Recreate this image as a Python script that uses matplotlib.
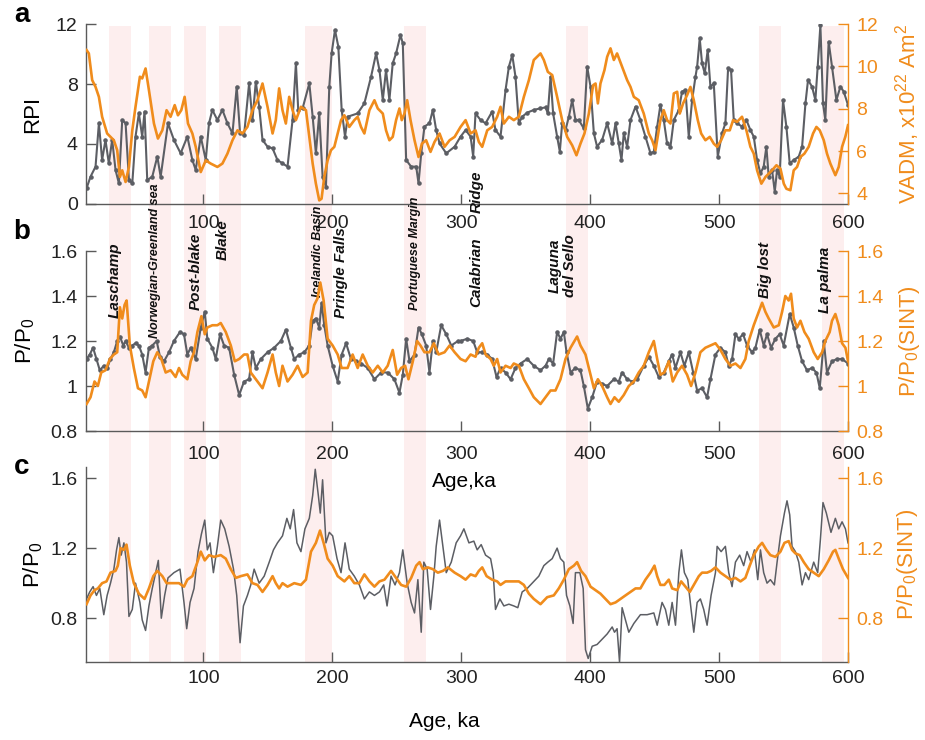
import matplotlib
matplotlib.use('Agg')
import matplotlib.pyplot as plt
from matplotlib.patches import Rectangle
from matplotlib.transforms import blended_transform_factory
from matplotlib.ticker import FuncFormatter

plt.rcParams['font.family'] = ['Liberation Sans', 'DejaVu Sans']
plt.rcParams['mathtext.fontset'] = 'custom'
plt.rcParams['mathtext.rm'] = 'Liberation Sans'
plt.rcParams['mathtext.it'] = 'Liberation Sans:italic'

GRAY = '#5c5e64'
ORANGE = '#f08c1c'
AXIS = '#5a5a5a'
BAND = '#fdeeee'

# ---- panel a: RPI stack (gray) and VADM (orange) ----
rpi_age = [9.4, 12.5, 16.4, 19.0, 21.5, 24.1, 26.7, 29.3, 31.9, 34.5,
           37.1, 39.7, 42.3, 44.9, 47.4, 50.0, 52.6, 54.4, 56.5, 60.4,
           64.3, 66.9, 72.6, 77.2, 82.4, 87.6, 91.5, 94.1, 98.0, 101.9,
           104.4, 107.0, 110.9, 114.8, 118.7, 122.6, 125.9, 128.5, 131.6, 135.5,
           138.1, 140.7, 143.3, 145.9, 149.8, 153.7, 157.5, 161.4, 165.3, 169.2,
           171.8, 173.6, 177.0, 182.2, 184.8, 187.3, 189.9, 192.5, 195.1, 197.7,
           199.5, 202.1, 204.7, 207.3, 209.9, 212.0, 219.7, 224.9, 230.1, 234.0,
           236.6, 239.2, 241.7, 244.3, 246.9, 249.5, 252.9, 254.7, 257.3, 261.2,
           265.1, 266.9, 269.0, 271.5, 275.4, 278.0, 280.6, 283.2, 288.4, 294.9,
           299.5, 303.4, 307.3, 309.3, 311.1, 315.0, 318.9, 324.0, 326.6, 330.5,
           334.4, 337.0, 339.6, 342.1, 344.7, 347.3, 351.2, 356.3, 361.5, 365.4,
           367.2, 369.3, 371.3, 374.4, 376.5, 378.3, 380.9, 383.5, 386.1, 388.6,
           391.2, 395.1, 397.7, 400.3, 402.9, 405.4, 409.3, 413.2, 417.1, 419.7,
           422.2, 424.3, 426.1, 428.7, 431.3, 435.2, 439.0, 442.9, 446.8, 449.4,
           452.0, 454.5, 457.1, 459.7, 462.3, 464.9, 468.8, 471.3, 473.9, 476.5,
           479.1, 481.7, 483.0, 485.0, 486.8, 488.9, 491.2, 493.3, 495.9, 499.0,
           502.3, 504.9, 507.0, 509.3, 511.4, 514.0, 517.8, 521.2, 524.3, 526.9,
           529.5, 532.1, 534.6, 536.7, 538.5, 541.1, 543.2, 545.0, 547.0, 549.6,
           552.2, 554.8, 557.9, 561.8, 564.4, 567.0, 569.0, 572.1, 574.7, 576.5,
           578.6, 580.6, 582.4, 585.0, 587.6, 591.0, 594.1, 596.7, 600.0]
rpi = [1.04, 1.82, 2.49, 5.38, 2.93, 4.27, 2.71, 4.27, 2.27, 1.38,
       5.60, 5.38, 1.60, 1.38, 4.49, 6.04, 4.49, 6.16, 1.60, 1.82,
       3.16, 1.82, 5.38, 4.27, 3.38, 4.49, 2.93, 2.27, 4.49, 2.93,
       5.38, 6.27, 5.60, 6.27, 5.38, 4.71, 7.82, 4.71, 4.60, 8.04,
       5.60, 8.16, 6.49, 4.27, 3.82, 3.71, 2.93, 2.71, 2.49, 5.60,
       9.38, 6.27, 6.38, 8.04, 5.82, 3.38, 6.04, 1.82, 1.16, 7.82,
       10.04, 11.60, 10.49, 6.27, 4.49, 5.82, 6.04, 6.71, 8.49, 10.04,
       8.93, 6.93, 8.93, 6.93, 9.38, 10.04, 11.27, 10.71, 2.93, 2.49,
       2.49, 1.38, 3.38, 5.16, 5.38, 6.27, 4.93, 4.04, 3.38, 3.82,
       4.49, 4.93, 4.49, 3.16, 6.04, 5.60, 5.38, 6.16, 4.93, 4.49,
       7.60, 9.16, 9.93, 8.49, 5.38, 5.82, 6.09, 6.27, 6.38, 6.44,
       6.04, 8.49, 6.04, 4.49, 3.49, 5.38, 4.93, 5.82, 6.93, 5.60,
       5.60, 5.04, 9.16, 7.82, 4.71, 3.82, 4.27, 5.38, 4.04, 5.38,
       4.04, 2.93, 4.71, 3.82, 5.60, 6.49, 5.60, 4.49, 3.38, 3.49,
       5.16, 6.60, 5.60, 4.04, 3.82, 5.60, 6.27, 7.49, 7.60, 4.49,
       6.93, 8.49, 9.16, 11.04, 9.38, 8.71, 10.27, 7.82, 8.04, 3.16,
       4.71, 5.38, 9.04, 8.93, 5.60, 5.38, 5.16, 5.60, 4.93, 4.49,
       2.93, 2.04, 2.49, 3.82, 1.82, 2.27, 0.82, 2.27, 1.82, 6.93,
       5.16, 2.71, 2.93, 3.16, 3.82, 6.71, 8.27, 7.82, 6.93, 9.16,
       11.93, 6.71, 5.60, 10.82, 9.16, 6.93, 7.82, 7.49, 6.60]

vadm_age = [9.4, 11.2, 13.8, 16.4, 19.0, 21.5, 25.4, 30.6, 33.2, 35.3,
            37.1, 39.7, 42.3, 44.9, 47.4, 50.8, 52.6, 55.2, 57.8, 61.7,
            64.8, 68.2, 71.5, 74.6, 77.8, 80.3, 82.9, 85.5, 88.1, 91.5,
            94.1, 98.0, 101.9, 105.7, 110.9, 114.8, 118.7, 122.6, 126.5, 130.3,
            134.2, 138.1, 142.0, 145.9, 149.8, 153.7, 156.2, 158.8, 161.4, 164.0,
            166.6, 169.2, 171.8, 175.7, 179.6, 182.2, 184.8, 187.3, 189.9, 191.7,
            193.8, 196.4, 199.0, 201.6, 204.2, 206.8, 209.4, 213.2, 217.1, 219.7,
            222.3, 224.9, 228.8, 232.7, 235.3, 239.2, 241.7, 244.3, 246.9, 249.5,
            252.1, 253.9, 256.0, 258.1, 260.7, 263.8, 266.9, 269.5, 272.8, 276.2,
            279.3, 283.2, 287.1, 291.0, 294.9,
            299.5, 303.4, 307.3, 311.1, 313.7, 316.3, 320.2, 324.0, 327.9, 330.5,
            333.1, 337.0, 340.8, 344.7, 348.6, 352.5, 356.3, 361.5, 364.1, 367.2,
            370.6, 374.4, 378.3, 382.2, 386.1, 389.4, 392.5, 395.6, 399.0, 402.3,
            404.2, 406.0, 408.0, 411.1, 413.2, 415.8, 418.4, 420.9, 424.8, 428.7,
            431.3, 433.9, 437.7, 441.6, 445.5, 448.1, 450.7, 454.5, 457.1, 459.7,
            462.3, 464.9, 467.5, 469.5, 472.1, 475.2, 477.8, 480.4, 483.5, 486.1,
            489.4, 492.8, 495.9, 498.5, 501.6, 504.9, 508.3, 510.9, 514.0, 517.8,
            521.2, 524.3, 526.9, 529.5, 532.8, 536.0, 538.5, 541.1, 544.5, 547.6,
            550.2, 552.2, 555.3, 557.9, 560.5, 563.1, 566.2, 569.5, 572.9, 575.5,
            578.1, 581.2, 583.7, 586.3, 590.2, 592.8, 595.4, 597.9, 600.0]
vadm = [10.77, 10.61, 9.35, 9.03, 8.56, 7.62, 6.83, 6.51, 6.04, 4.78,
        5.09, 4.54, 5.25, 6.98, 8.09, 9.51, 9.43, 9.90, 8.88, 7.30,
        6.59, 6.98, 7.93, 7.62, 8.17, 7.69, 7.93, 8.56, 7.30, 6.83,
        6.20, 5.01, 5.56, 5.41, 5.25, 5.41, 5.88, 6.51, 6.98, 6.83,
        7.14, 7.93, 8.40, 9.19, 8.09, 6.83, 7.46, 8.96, 7.93, 7.30,
        8.56, 7.93, 7.46, 8.09, 7.93, 6.67, 5.41, 4.46, 3.67, 3.75,
        4.78, 5.56, 6.04, 6.20, 6.83, 7.46, 7.69, 7.14, 7.46, 7.62,
        7.14, 6.83, 7.93, 8.40, 8.01, 7.77, 6.98, 6.51, 6.67, 7.46,
        8.01, 7.46, 7.77, 8.40, 7.46, 6.51, 5.72, 6.35, 6.51, 5.96,
        6.43, 6.83, 6.20, 6.51, 6.67,
        7.14, 7.46, 6.83, 6.98, 6.43, 6.20, 6.98, 7.14, 7.62, 8.09,
        7.30, 7.62, 7.46, 7.62, 8.56, 9.35, 10.30, 10.61, 10.30, 9.74,
        9.59, 8.56, 7.46, 6.67, 6.27, 5.80, 6.35, 6.83, 7.77, 9.11,
        9.19, 8.25, 9.19, 9.82, 10.45, 10.85, 10.30, 10.61, 9.98, 9.35,
        9.03, 8.56, 8.40, 7.77, 6.83, 6.51, 6.04, 7.46, 7.93, 7.46,
        7.30, 8.72, 8.80, 7.77, 8.25, 8.64, 9.03, 8.40, 7.46, 6.83,
        6.51, 6.67, 6.35, 6.20, 6.51, 6.98, 6.98, 7.46, 7.38, 7.62,
        6.98, 6.20, 5.88, 5.09, 4.46, 4.78, 4.93, 5.09, 5.33, 5.17,
        4.46, 4.22, 4.15, 5.09, 5.25, 5.72, 5.88, 6.20, 6.83, 7.14,
        6.98, 6.51, 5.88, 5.41, 4.86, 5.25, 6.20, 6.67, 7.22]

# ---- panel b: P/P0 from RPI (gray) and from SINT (orange) ----
pb_age = [9.4, 11.9, 14.5, 17.1, 19.7, 22.8, 25.4, 28.0, 30.6, 33.2,
          35.3, 37.9, 39.7, 42.3, 44.9, 47.4, 50.0, 52.6, 55.2, 57.8,
          60.4, 63.8, 66.4, 69.5, 73.4, 77.2, 81.9, 85.0, 87.6, 90.2,
          94.1, 98.0, 101.1, 103.1, 107.0, 109.6, 113.0, 116.1, 120.0, 123.9,
          127.8, 131.6, 135.5, 138.1, 140.7, 144.6, 149.8, 154.9, 160.1, 164.0,
          167.9, 170.5, 174.4, 178.3, 182.2, 184.8, 187.3, 189.9, 191.7, 193.8,
          196.4, 200.3, 204.2, 207.3, 210.7, 214.5, 218.4, 222.3, 227.5, 232.7,
          237.9, 243.0, 248.2, 252.1, 254.7, 257.3, 259.9, 263.8, 266.9, 269.5,
          272.8, 275.4, 278.0, 280.6, 284.5, 288.4, 292.3, 297.5,
          299.5, 304.7, 309.3, 312.4, 316.3, 320.2, 324.0, 327.4, 330.5, 334.4,
          338.3, 342.1, 346.0, 351.2, 356.3, 361.5, 365.4, 368.0, 371.3, 374.4,
          377.0, 379.6, 381.7, 384.8, 388.6, 392.5, 395.1, 398.2, 401.6, 405.4,
          409.3, 413.2, 418.4, 422.2, 424.8, 428.7, 432.6, 436.5, 441.6, 445.5,
          449.4, 453.2, 457.1, 461.0, 463.6, 466.2, 470.0, 473.1, 476.5, 479.9,
          483.0, 486.8, 490.7, 493.3, 497.2, 501.1, 504.9, 507.5, 510.1, 512.7,
          515.3, 518.6, 521.7, 525.6, 528.2, 531.5, 534.6, 537.2, 540.3, 543.7,
          547.0, 550.1, 554.8, 557.9, 561.0, 564.4, 568.2, 572.1, 575.5, 578.1,
          581.2, 583.7, 587.6, 591.5, 595.4, 600.0]
pb = [1.12, 1.14, 1.17, 1.12, 1.07, 1.09, 1.08, 1.12, 1.15, 1.20,
      1.22, 1.18, 1.20, 1.17, 1.18, 1.19, 1.18, 1.14, 1.06, 1.17,
      1.18, 1.20, 1.13, 1.11, 1.15, 1.20, 1.24, 1.23, 1.14, 1.17,
      1.12, 1.26, 1.33, 1.21, 1.17, 1.12, 1.23, 1.18, 1.17, 1.05,
      0.96, 1.02, 1.03, 1.15, 1.08, 1.12, 1.15, 1.17, 1.20, 1.25,
      1.17, 1.12, 1.14, 1.15, 1.18, 1.29, 1.30, 1.26, 1.37, 1.27,
      1.18, 1.09, 1.02, 1.14, 1.19, 1.12, 1.11, 1.10, 1.08, 1.03,
      1.06, 1.06, 1.03, 0.97, 1.05, 1.21, 1.11, 1.14, 1.26, 1.23,
      1.18, 1.06, 1.20, 1.15, 1.27, 1.23, 1.18, 1.20,
      1.20, 1.21, 1.20, 1.15, 1.15, 1.14, 1.12, 1.04, 1.08, 1.06,
      1.03, 1.08, 1.10, 1.12, 1.09, 1.07, 1.09, 1.12, 1.10, 1.24,
      1.21, 1.24, 1.15, 1.06, 1.08, 1.07, 1.00, 0.90, 0.95, 1.02,
      1.01, 1.00, 1.03, 1.02, 1.06, 1.03, 1.02, 1.03, 1.09, 1.13,
      1.09, 1.04, 1.06, 1.11, 1.14, 1.08, 1.15, 1.09, 1.15, 1.06,
      0.98, 0.99, 0.95, 1.03, 1.14, 1.17, 1.15, 1.09, 1.12, 1.23,
      1.21, 1.23, 1.18, 1.15, 1.17, 1.25, 1.18, 1.23, 1.17, 1.21,
      1.23, 1.18, 1.32, 1.26, 1.18, 1.11, 1.07, 1.08, 1.06, 0.99,
      1.20, 1.06, 1.11, 1.12, 1.12, 1.10]

sint_b_age = [9.4, 12.5, 15.6, 18.2, 20.8, 24.1, 27.5, 30.6, 33.2, 35.3,
              37.1, 38.9, 40.5, 43.0, 46.1, 49.3, 52.6, 55.2, 57.8, 61.2,
              64.3, 67.4, 70.8, 74.6, 78.5, 81.1, 83.7, 87.6, 90.2, 92.8,
              95.4, 98.5, 101.1, 103.1, 107.0, 110.9, 113.5, 117.4, 121.3, 124.4,
              127.8, 131.6, 134.2, 136.8, 140.7, 145.9, 149.8, 153.7, 156.2, 158.8,
              161.4, 165.3, 169.2, 173.1, 177.0, 180.9, 183.5, 186.0, 188.6, 190.7,
              193.3, 196.4, 200.3, 204.2, 207.3, 211.9, 215.8, 219.7, 223.6, 227.5,
              231.4, 235.3, 239.2, 243.0, 246.9, 250.3, 253.4, 256.5, 259.1, 262.5,
              265.8, 268.4, 271.5, 275.4, 278.8, 282.4, 287.1, 291.0, 294.9,
              299.5, 303.4, 307.3, 311.1, 313.7, 316.3, 318.9, 322.8, 325.3, 327.9,
              330.5, 334.4, 338.3, 340.8, 344.7, 348.6, 352.5, 356.3, 361.5, 365.4,
              369.3, 373.1, 377.0, 380.9, 384.8, 387.9, 389.9, 392.5, 396.4, 400.3,
              402.9, 406.0, 409.3, 413.2, 415.8, 418.9, 422.2, 426.1, 430.0, 433.9,
              437.7, 441.6, 445.5, 449.4, 452.0, 454.5, 457.6, 461.0, 464.1, 467.5,
              471.3, 475.2, 478.3, 481.7, 485.5, 489.4, 493.3, 497.2, 501.1, 504.9,
              508.8, 512.7, 516.6, 520.4, 523.0, 526.9, 530.8, 533.4, 535.9, 538.5,
              542.4, 546.3, 548.9, 551.4, 554.0, 555.8, 557.9, 560.5, 563.1, 566.2,
              569.5, 573.4, 576.5, 579.9, 582.4, 585.8, 587.6, 590.2, 592.8, 595.4,
              598.0, 600.0]
sint_b = [0.92, 0.95, 1.02, 1.00, 1.06, 1.07, 1.12, 1.14, 1.15, 1.35,
          1.30, 1.36, 1.38, 1.18, 1.08, 0.99, 0.98, 0.95, 1.02, 1.11,
          1.15, 1.12, 1.06, 1.07, 1.04, 1.08, 1.05, 1.03, 1.11, 1.15,
          1.24, 1.31, 1.23, 1.26, 1.27, 1.27, 1.28, 1.24, 1.18, 1.11,
          1.12, 1.14, 1.14, 1.06, 1.03, 0.99, 1.06, 1.14, 1.06, 1.00,
          1.09, 1.02, 1.05, 1.09, 1.04, 1.06, 1.29, 1.36, 1.39, 1.46,
          1.38, 1.21, 1.18, 1.14, 1.08, 1.08, 1.14, 1.08, 1.14, 1.09,
          1.06, 1.09, 1.06, 1.09, 1.16, 1.05, 1.08, 1.09, 1.03, 1.11,
          1.20, 1.18, 1.15, 1.15, 1.19, 1.14, 1.15, 1.18, 1.15,
          1.12, 1.11, 1.14, 1.13, 1.17, 1.19, 1.14, 1.12, 1.09, 1.12,
          1.06, 1.09, 1.08, 1.10, 1.09, 1.03, 0.99, 0.95, 0.92, 0.95,
          0.98, 0.98, 1.03, 1.12, 1.17, 1.20, 1.22, 1.18, 1.14, 1.05,
          0.99, 1.03, 1.00, 0.95, 0.92, 0.95, 0.93, 0.96, 1.00, 1.02,
          1.06, 1.09, 1.15, 1.20, 1.12, 1.05, 1.06, 1.11, 1.02, 1.06,
          1.09, 1.05, 1.00, 1.06, 1.15, 1.17, 1.18, 1.19, 1.16, 1.12,
          1.09, 1.10, 1.08, 1.12, 1.20, 1.27, 1.33, 1.37, 1.33, 1.30,
          1.26, 1.27, 1.33, 1.40, 1.38, 1.41, 1.30, 1.26, 1.29, 1.24,
          1.21, 1.15, 1.12, 1.15, 1.20, 1.24, 1.29, 1.32, 1.27, 1.19,
          1.17, 1.11]

# ---- panel c: P/P0 from the second record (gray) and SINT (orange) ----
pc_age = [9.4, 11.9, 14.5, 17.1, 19.7, 22.8, 25.4, 28.0, 30.6, 32.7,
          34.5, 36.3, 38.4, 40.4, 42.3, 44.9, 47.4, 50.8, 52.6, 55.2,
          57.8, 60.4, 63.0, 65.1, 67.4, 70.0, 72.6, 77.2, 81.9, 85.0,
          87.1, 89.7, 92.8, 95.9, 98.5, 101.1, 103.1, 105.2, 107.8, 110.9,
          113.5, 116.6, 120.0, 123.4, 125.9, 128.5, 131.1, 134.2, 136.8, 139.4,
          143.3, 147.2, 151.1, 154.4, 157.5, 161.4, 164.8, 167.4, 170.0, 172.6,
          175.7, 178.8, 182.2, 184.8, 186.8, 189.2, 190.7, 192.5, 195.1, 197.7,
          200.3, 203.7, 206.8, 209.9, 213.2, 217.1, 221.0, 224.9, 228.8, 232.7,
          236.6, 239.9, 242.5, 245.6, 248.7, 252.1, 254.7, 258.1, 261.2, 263.8,
          266.4, 269.0, 271.0, 273.6, 276.2, 278.8, 280.6, 283.2, 285.8, 288.4,
          292.3, 296.1,
          299.5, 302.1, 306.0, 309.8, 312.4, 315.5, 318.9, 322.8, 324.8, 326.6,
          330.0, 333.1, 337.0, 340.8, 343.9, 347.3, 351.2, 355.1, 360.2, 364.1,
          367.2, 370.6, 374.4, 377.0, 379.6, 381.7, 384.3, 386.8, 388.6, 392.0,
          394.6, 396.4, 398.5, 401.6, 405.4, 409.3, 413.2, 417.1, 418.9, 420.9,
          422.8, 424.8, 427.4, 430.0, 433.9, 439.0, 444.2, 449.4, 452.0, 455.8,
          458.4, 461.0, 463.6, 466.2, 468.8, 470.8, 473.1, 475.7, 478.3, 480.4,
          483.0, 485.5, 488.1, 490.7, 493.8, 497.2, 498.5, 501.6, 504.9, 507.5,
          510.1, 512.7, 516.0, 519.1, 521.7, 524.8, 527.4, 530.0, 532.1, 534.6,
          537.2, 539.8, 542.9, 545.0, 547.6, 550.7, 552.7, 554.8, 556.6, 559.2,
          561.8, 564.4, 567.0, 569.5, 573.4, 576.5, 578.6, 580.6, 583.2, 586.8,
          590.2, 592.8, 595.4, 598.0, 600.0]
pc = [0.91, 0.95, 0.98, 0.93, 0.97, 0.82, 0.93, 1.00, 1.08, 1.19,
      1.26, 1.16, 1.23, 1.12, 0.81, 0.85, 1.00, 0.89, 0.79, 0.73,
      0.87, 0.97, 1.06, 1.13, 0.80, 0.93, 1.03, 1.06, 1.08, 0.89,
      0.74, 0.89, 0.97, 1.18, 1.28, 1.36, 1.19, 1.23, 1.06, 1.21,
      1.36, 1.31, 1.21, 1.08, 0.93, 0.66, 0.87, 0.93, 0.99, 1.08,
      1.00, 1.04, 1.12, 1.19, 1.23, 1.27, 1.37, 1.31, 1.42, 1.23,
      1.18, 1.31, 1.37, 1.50, 1.65, 1.50, 1.40, 1.59, 1.23, 1.29,
      1.27, 1.14, 1.06, 1.23, 1.08, 1.04, 0.99, 0.91, 0.95, 0.93,
      0.95, 0.99, 0.87, 1.04, 0.99, 1.06, 1.19, 1.00, 0.89, 0.83,
      1.02, 0.72, 1.12, 1.08, 0.85, 1.04, 1.21, 1.36, 1.21, 1.06,
      1.12, 1.23,
      1.27, 1.31, 1.23, 1.24, 1.19, 1.22, 1.16, 1.14, 1.06, 0.85,
      0.91, 0.87, 0.88, 0.87, 0.86, 0.95, 0.97, 1.00, 1.04, 1.10,
      1.12, 1.14, 1.20, 1.14, 1.12, 0.93, 0.87, 0.77, 1.06, 1.06,
      0.97, 0.62, 0.57, 0.64, 0.65, 0.68, 0.71, 0.75, 0.72, 0.74,
      0.55, 0.86, 0.79, 0.72, 0.77, 0.82, 0.82, 0.83, 0.76, 0.89,
      0.85, 0.76, 0.89, 0.76, 1.06, 1.19, 1.06, 1.02, 0.85, 0.72,
      0.89, 0.91, 0.85, 0.76, 0.93, 1.06, 1.21, 1.18, 1.21, 1.06,
      0.98, 1.12, 1.16, 1.10, 1.18, 1.12, 1.19, 1.02, 1.19, 1.06,
      1.00, 1.02, 0.99, 1.12, 1.27, 1.40, 1.47, 1.39, 1.21, 1.18,
      1.12, 0.99, 1.06, 1.02, 1.12, 1.06, 1.25, 1.46, 1.40, 1.29,
      1.37, 1.31, 1.35, 1.31, 1.23]

sint_c_age = [9.4, 12.5, 15.6, 18.2, 21.5, 24.9, 28.0, 31.9, 33.7, 35.8,
              38.4, 40.4, 43.0, 46.1, 50.0, 54.4, 57.8, 61.2, 64.3, 68.2,
              71.5, 75.9, 81.1, 85.0, 87.6, 91.5, 95.4, 98.0, 101.1, 104.4,
              108.3, 113.5, 117.4, 121.3, 125.2, 129.0, 134.2, 138.1, 142.0, 145.9,
              149.8, 153.7, 156.2, 158.8, 161.4, 165.3, 170.5, 175.7, 179.6, 183.5,
              187.3, 190.5, 193.3, 196.4, 200.3, 204.2, 209.4, 213.2, 217.1, 221.0,
              224.9, 228.8, 232.7, 236.6, 240.5, 245.6, 249.5, 253.4, 257.3, 261.2,
              265.1, 267.7, 270.3, 274.1, 278.0, 281.9, 285.8, 289.7, 294.9,
              299.5, 303.4, 307.3, 311.1, 313.7, 316.3, 319.7, 324.0, 327.9, 330.5,
              334.4, 339.6, 344.7, 348.6, 352.5, 356.3, 361.5, 366.7, 371.8, 375.7,
              379.6, 383.5, 387.4, 389.9, 393.0, 396.4, 400.3, 404.2, 408.0, 411.9,
              415.8, 419.7, 423.5, 427.4, 431.3, 435.2, 439.0, 442.9, 446.8, 449.9,
              452.0, 454.5, 457.6, 461.0, 463.6, 467.5, 470.6, 473.9, 477.3, 480.4,
              484.3, 486.8, 490.7, 493.8, 497.2, 501.1, 504.9, 508.8, 512.7, 516.6,
              520.4, 523.8, 526.9, 530.8, 533.4, 536.7, 539.8, 543.7, 547.6, 550.7,
              554.0, 556.6, 559.2, 562.5, 565.7, 569.5, 573.4, 577.3, 581.2, 585.0,
              588.4, 590.2, 592.8, 596.1, 600.0]
sint_c = [0.88, 0.93, 0.96, 0.97, 1.00, 1.01, 1.06, 1.07, 1.10, 1.20,
          1.19, 1.22, 1.10, 1.00, 0.94, 0.91, 0.97, 1.04, 1.07, 1.04,
          1.00, 1.00, 1.00, 0.98, 1.02, 1.04, 1.12, 1.18, 1.13, 1.16,
          1.15, 1.16, 1.14, 1.08, 1.03, 1.04, 1.05, 1.00, 0.99, 0.95,
          0.99, 1.04, 1.00, 0.97, 1.00, 0.98, 1.00, 0.99, 1.02, 1.18,
          1.23, 1.30, 1.23, 1.14, 1.10, 1.04, 1.01, 1.04, 1.00, 1.00,
          1.05, 1.01, 0.98, 1.01, 1.02, 1.07, 1.03, 0.99, 0.98, 1.03,
          1.10, 1.12, 1.08, 1.09, 1.08, 1.06, 1.07, 1.09, 1.06,
          1.04, 1.02, 1.05, 1.04, 1.07, 1.09, 1.04, 1.02, 1.01, 0.99,
          1.01, 1.01, 1.01, 0.99, 0.94, 0.91, 0.88, 0.92, 0.93, 0.97,
          1.02, 1.08, 1.10, 1.12, 1.07, 1.04, 0.98, 0.96, 0.94, 0.91,
          0.88, 0.89, 0.91, 0.93, 0.95, 0.97, 0.97, 1.02, 1.06, 1.10,
          1.04, 0.99, 0.99, 1.02, 0.97, 0.96, 1.01, 0.98, 0.95, 0.99,
          1.04, 1.06, 1.06, 1.07, 1.09, 1.06, 1.04, 1.02, 1.03, 1.01,
          1.03, 1.10, 1.16, 1.21, 1.23, 1.19, 1.16, 1.15, 1.18, 1.23,
          1.24, 1.19, 1.17, 1.16, 1.12, 1.08, 1.06, 1.04, 1.08, 1.13,
          1.18, 1.19, 1.14, 1.08, 1.03]

# geomagnetic excursions (start, end in ka)
excursions = [(27, 44), (58, 75), (85, 102), (112, 129), (179, 200),
              (256, 273), (381, 398), (531, 548), (580, 597)]

# excursion names: text, age, bottom of text (px from top), font size
event_labels = [('Laschamp', 31.5, 318, 11),
                ('Norwegian-Greenland sea', 62.5, 338, 9),
                ('Post-blake', 94.3, 310, 11),
                ('Blake', 115.2, 260, 11),
                ('Icelandic Basin', 188.8, 297, 9),
                ('Pringle Falls', 206.7, 318, 11),
                ('Portuguese Margin', 264.0, 310, 9),
                ('Calabrian', 312.0, 307, 11),
                ('Ridge', 312.0, 213, 11),
                ('Laguna\ndel Sello', 378.5, 297, 11),
                ('Big lost', 535.4, 298, 11),
                ('La palma', 581.9, 313, 11)]

W, H = 925, 740
fig = plt.figure(figsize=(W / 100, H / 100), dpi=100)


def fig_box(left, top, right, bottom):
    return [left / W, 1 - bottom / H, (right - left) / W, (bottom - top) / H]


ax_a = fig.add_axes(fig_box(86, 24, 848, 204))
ax_b = fig.add_axes(fig_box(86, 251, 848, 431))
ax_c = fig.add_axes(fig_box(86, 467, 848, 662))
ax_ar = ax_a.twinx()
ax_br = ax_b.twinx()
ax_cr = ax_c.twinx()

fmt = FuncFormatter(lambda v, p: '%g' % round(v, 3))


def style(ax, axr, xpad):
    for a in (ax, axr):
        a.set_facecolor('none')
        a.spines['top'].set_visible(False)
        a.set_xlim(9, 600)
    ax.spines['right'].set_visible(False)
    axr.spines['left'].set_visible(False)
    axr.spines['bottom'].set_visible(False)
    for s in ('left', 'bottom'):
        ax.spines[s].set_color(AXIS)
        ax.spines[s].set_linewidth(1.0)
    axr.spines['right'].set_color(ORANGE)
    axr.spines['right'].set_linewidth(1.0)
    ax.set_xticks([100, 200, 300, 400, 500, 600])
    ax.tick_params(axis='both', direction='in', length=7, width=1,
                   color=AXIS, labelcolor='#222222', labelsize=14)
    ax.tick_params(axis='x', pad=xpad)
    ax.tick_params(axis='y', pad=6)
    axr.tick_params(axis='y', direction='in', length=7, width=1,
                    color=ORANGE, labelcolor=ORANGE, labelsize=14, pad=6)
    ax.yaxis.set_major_formatter(fmt)
    axr.yaxis.set_major_formatter(fmt)


style(ax_a, ax_ar, 8)
style(ax_b, ax_br, 11)
style(ax_c, ax_cr, 6)

# panel a
ax_a.plot(rpi_age, rpi, color=GRAY, lw=1.5, marker='.', ms=4.5)
ax_ar.plot(vadm_age, vadm, color=ORANGE, lw=1.9)
ax_a.set_ylim(0, 12)
ax_a.set_yticks([0, 4, 8, 12])
ax_ar.set_ylim(3.5, 12)
ax_ar.set_yticks([4, 6, 8, 10, 12])
ax_a.set_ylabel('RPI', fontsize=16)
ax_a.yaxis.set_label_coords(-0.056, 0.5)
ax_ar.set_ylabel('VADM, x10$^{22}$ Am$^2$', fontsize=16, color=ORANGE)
ax_ar.yaxis.set_label_coords(1.059, 0.5)

# panel b
ax_b.plot(pb_age, pb, color=GRAY, lw=1.5, marker='.', ms=4.5)
ax_br.plot(sint_b_age, sint_b, color=ORANGE, lw=1.9)
for a in (ax_b, ax_br):
    a.set_ylim(0.8, 1.6)
    a.set_yticks([0.8, 1.0, 1.2, 1.4, 1.6])
ax_b.set_ylabel('P/P$_0$', fontsize=16)
ax_b.yaxis.set_label_coords(-0.064, 0.5)
ax_br.set_ylabel('P/P$_0$(SINT)', fontsize=16, color=ORANGE)
ax_br.yaxis.set_label_coords(1.064, 0.5)
ax_b.set_xlabel('Age,ka', fontsize=15)
ax_b.xaxis.set_label_coords(0.497, -0.23)

# panel c
ax_c.plot(pc_age, pc, color=GRAY, lw=1.1)
ax_cr.plot(sint_c_age, sint_c, color=ORANGE, lw=1.9)
for a in (ax_c, ax_cr):
    a.set_ylim(0.55, 1.663)
    a.set_yticks([0.8, 1.2, 1.6])
ax_c.set_ylabel('P/P$_0$', fontsize=16)
ax_c.yaxis.set_label_coords(-0.054, 0.5)
ax_cr.set_ylabel('P/P$_0$(SINT)', fontsize=16, color=ORANGE)
ax_cr.yaxis.set_label_coords(1.062, 0.5)
ax_c.set_xlabel('Age, ka', fontsize=15)
ax_c.xaxis.set_label_coords(0.47, -0.255)

# shaded excursion bands running through all three panels
band_tr = blended_transform_factory(ax_c.transData, fig.transFigure)
for start, end in excursions:
    fig.patches.append(Rectangle((start, 1 - 662 / H), end - start, (662 - 26) / H,
                                 transform=band_tr, facecolor=BAND,
                                 edgecolor='none', zorder=-1))

# excursion names
text_tr = blended_transform_factory(ax_b.transData, fig.transFigure)
for name, age, ypx, size in event_labels:
    ax_b.text(age, 1 - ypx / H, name, transform=text_tr, rotation=90,
              ha='center', va='bottom', fontsize=size, style='italic',
              fontweight='bold', multialignment='center', linespacing=1.05,
              clip_on=False, color='#111111')

for letter, ypx in (('a', 15), ('b', 232), ('c', 467)):
    fig.text(22 / W, 1 - ypx / H, letter, fontsize=20, fontweight='bold',
             ha='center', va='center')

fig.savefig('out.png', dpi=100)
